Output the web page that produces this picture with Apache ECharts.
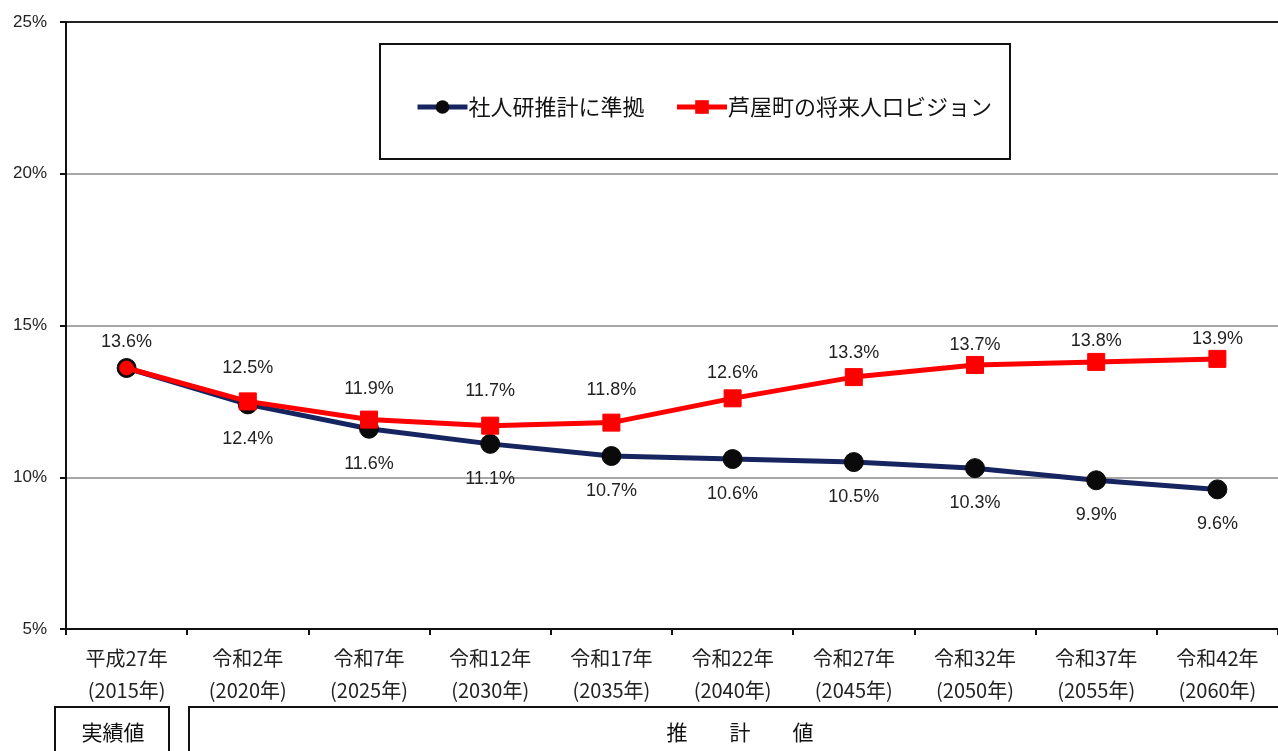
<!DOCTYPE html>
<html lang="ja">
<head>
<meta charset="utf-8">
<title>高齢化率の推移</title>
<script src="https://cdn.jsdelivr.net/npm/echarts@6/dist/echarts.min.js"></script>
<style>
  html, body { margin: 0; padding: 0; background: #fff; }
  #chart { width: 1278px; height: 751px; }
</style>
</head>
<body>
<div id="chart"></div>
<script>
// 年次区分
const categories = [
  '平成27年\n(2015年)', '令和2年\n(2020年)', '令和7年\n(2025年)', '令和12年\n(2030年)',
  '令和17年\n(2035年)', '令和22年\n(2040年)', '令和27年\n(2045年)', '令和32年\n(2050年)',
  '令和37年\n(2055年)', '令和42年\n(2060年)'
];
// 社人研推計に準拠（%）
const ipssValues = [13.6, 12.4, 11.6, 11.1, 10.7, 10.6, 10.5, 10.3, 9.9, 9.6];
// 芦屋町の将来人口ビジョン（%）
const visionValues = [13.6, 12.5, 11.9, 11.7, 11.8, 12.6, 13.3, 13.7, 13.8, 13.9];
// 縦軸目盛
const yTicks = [5, 10, 15, 20, 25];
const seriesNames = ['社人研推計に準拠', '芦屋町の将来人口ビジョン'];

// ビジョン系列のラベルを個別に上下へ寄せる量（px、負で上）
const visionLabelNudge = [0, -6, -4, -8, -6, 2, 3, 7, 6, 7];

const FONT = '"Noto Sans CJK JP", "Liberation Sans", sans-serif';
const NUM_FONT = '"Liberation Sans", "Noto Sans CJK JP", sans-serif';
const chart = echarts.init(document.getElementById('chart'));

const pct = v => v.toFixed(1) + '%';

// 社人研系列：最初の点（実績値）にはラベルを付けない
const ipssData = ipssValues.map((v, i) => (
  i === 0 ? { value: v, label: { show: false } } : { value: v }
));
// ビジョン系列：実績値の点は丸印
const visionData = visionValues.map((v, i) => {
  const item = { value: v, label: { offset: [0, visionLabelNudge[i]] } };
  if (i === 0) { item.symbol = 'circle'; item.symbolSize = 14; }
  return item;
});

chart.setOption({
  animation: false,
  textStyle: { fontFamily: FONT },
  grid: { left: 66, top: 22, width: 1223, height: 607, containLabel: false },
  legend: {
    left: 410, top: 91,
    itemWidth: 50, itemHeight: 17, itemGap: 30,
    lineStyle: { width: 5 },
    textStyle: { fontSize: 22, color: '#111', fontFamily: FONT, padding: [0, 0, 0, -4] },
    data: seriesNames
  },
  xAxis: {
    type: 'category',
    data: categories,
    boundaryGap: true,
    axisLine: { lineStyle: { color: '#111', width: 2 } },
    axisTick: { show: true, length: 6, lineStyle: { color: '#111', width: 2 } },
    axisLabel: { fontSize: 20, lineHeight: 32, color: '#222', margin: 13, fontFamily: FONT, interval: 0 },
    splitLine: { show: false }
  },
  yAxis: {
    type: 'value',
    min: yTicks[0], max: yTicks[yTicks.length - 1], interval: 5,
    axisLine: { show: true, lineStyle: { color: '#111', width: 2 } },
    axisTick: { show: true, length: 6, lineStyle: { color: '#111', width: 2 } },
    axisLabel: { formatter: v => v + '%', fontSize: 17, color: '#222', margin: 19, fontFamily: NUM_FONT },
    splitLine: { show: true, lineStyle: { color: ['#222', '#a6a6a6', '#a6a6a6', '#a6a6a6', '#222'], width: 2 } }
  },
  series: [
    {
      name: seriesNames[0],
      type: 'line',
      data: ipssData,
      z: 2,
      symbol: 'circle', symbolSize: 19,
      lineStyle: { color: '#16245f', width: 5 },
      itemStyle: { color: '#0a0a0a', borderColor: '#0a0a0a' },
      label: { show: true, position: 'bottom', distance: 16, formatter: p => pct(p.value), fontSize: 18, color: '#222', fontFamily: NUM_FONT }
    },
    {
      name: seriesNames[1],
      type: 'line',
      data: visionData,
      z: 3,
      symbol: 'rect', symbolSize: 17,
      lineStyle: { color: '#ff0000', width: 5 },
      itemStyle: { color: '#ff0000', borderColor: '#ff0000' },
      label: { show: true, position: 'top', distance: 9, formatter: p => pct(p.value), fontSize: 18, color: '#222', fontFamily: NUM_FONT }
    }
  ],
  graphic: [
    // 凡例の枠
    { type: 'rect', shape: { x: 380, y: 44, width: 630, height: 115 }, style: { fill: 'none', stroke: '#111', lineWidth: 2 }, z: 1 },
    // 実績値・推計値の区分枠
    { type: 'rect', shape: { x: 55, y: 707, width: 114, height: 60 }, style: { fill: 'none', stroke: '#111', lineWidth: 2 } },
    { type: 'rect', shape: { x: 189, y: 707, width: 1110, height: 60 }, style: { fill: 'none', stroke: '#111', lineWidth: 2 } },
    { type: 'text', x: 113, y: 732, style: { text: '実績値', font: '21px ' + FONT, fill: '#111', align: 'center', verticalAlign: 'middle' } },
    { type: 'text', x: 740, y: 732, style: { text: '推　　計　　値', font: '21px ' + FONT, fill: '#111', align: 'center', verticalAlign: 'middle' } }
  ]
});
</script>
</body>
</html>
